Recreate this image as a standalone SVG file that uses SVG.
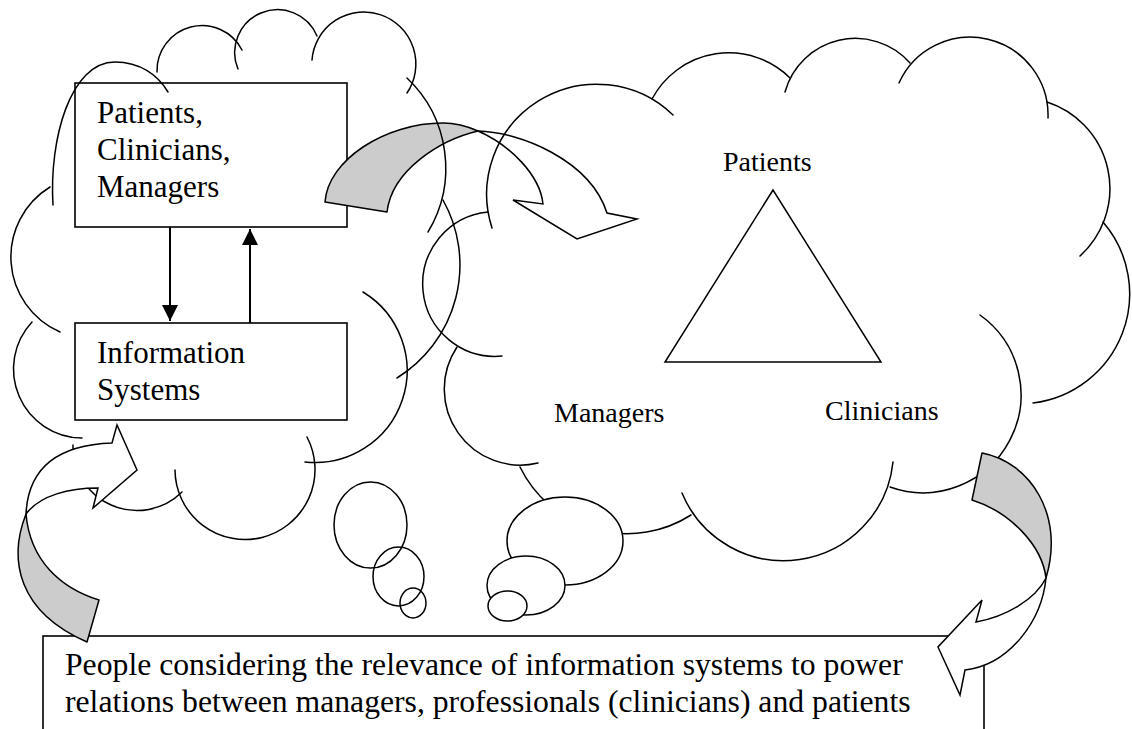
<svg xmlns="http://www.w3.org/2000/svg" width="1132" height="729" viewBox="0 0 1132 729">
<style>
.ln{fill:none;stroke:#000;stroke-width:1.5;stroke-linecap:round}
.bx{fill:none;stroke:#000;stroke-width:1.6}
.gray{fill:#cccccc;stroke:#000;stroke-width:1.5;stroke-linejoin:round}
.wht{fill:#fff;stroke:#000;stroke-width:1.5;stroke-linejoin:miter}
.wfill{fill:#fff;stroke:#000;stroke-width:1.5}
.t{font-family:"Liberation Serif","Times New Roman",serif;fill:#000}
.conn{stroke:#000;stroke-width:2;fill:none}
</style>
<defs>
<marker id="ah" viewBox="0 0 10 10" refX="10" refY="5" markerWidth="16" markerHeight="16" markerUnits="userSpaceOnUse" orient="auto">
<path d="M0,0 L10,5 L0,10 Z" fill="#000"/>
</marker>
</defs>
<rect width="1132" height="729" fill="#fff"/>

<g id="box-people">
<rect class="bx" x="75" y="83" width="272" height="144"/>
<text class="t" font-size="31" x="97" y="123">Patients,</text>
<text class="t" font-size="31" x="97" y="160">Clinicians,</text>
<text class="t" font-size="31" x="97" y="197">Managers</text>
</g>
<g id="box-is">
<rect class="bx" x="75" y="323" width="272" height="97"/>
<text class="t" font-size="31" x="97" y="363">Information</text>
<text class="t" font-size="31" x="97" y="400">Systems</text>
</g>

<g id="arrow-top">
<path class="gray" d="M325,202 C328,160 385,123 443,123 Q460,123 478,131 C440,140 392,170 387,212 Z"/>
<path class="wht" d="M478,131 C520,132 590,160 607,213 L637,219 L577,239 L513,200 L543,204 C540,175 510,145 478,131 Z"/>
</g>

<g id="cloud-left">
<path class="ln" d="M60,332 A82,82 0 0 1 50,187"/>
<path class="ln" d="M53,205 C49,140 70,62 115,62 C140,62 158,75 168,92"/>
<path class="ln" d="M157,72 A45,45 0 0 1 242,50"/>
<path class="ln" d="M238,69 A42,42 0 0 1 317,36"/>
<path class="ln" d="M312,60 A52,52 0 1 1 407,93"/>
<path class="ln" d="M407,78 A124,124 0 0 1 428,232"/>
<path class="ln" d="M443,200 A133,133 0 0 1 397,378"/>
<path class="ln" d="M363,292 A92,92 0 0 1 305,462"/>
<path class="ln" d="M307,437 A70,70 0 1 1 175,470"/>
<path class="ln" d="M182,492 A64,64 0 0 1 73,445"/>
<path class="ln" d="M82,438 A69,69 0 0 1 32,322"/>
<ellipse class="ln" cx="370.5" cy="525" rx="36.5" ry="43"/>
<ellipse class="ln" cx="398.5" cy="576.5" rx="25.5" ry="29.5"/>
<ellipse class="ln" cx="413" cy="603" rx="13" ry="15"/>
</g>

<g id="cloud-right">
<path class="ln" d="M502,356 A72,72 0 0 1 488,212"/>
<path class="ln" d="M492,228 A110,110 0 0 1 673,115"/>
<path class="ln" d="M652,99 A87,87 0 0 1 790,78"/>
<path class="ln" d="M785,92 A73,73 0 0 1 910,63"/>
<path class="ln" d="M899,83 A78,78 0 0 1 1048,118"/>
<path class="ln" d="M1047,102 A91,91 0 0 1 1080,256"/>
<path class="ln" d="M1103,222 A110,110 0 0 1 1033,403"/>
<path class="ln" d="M980,315 A98,98 0 0 1 890,487"/>
<path class="ln" d="M893,462 A110,110 0 0 1 682,493"/>
<path class="ln" d="M691,515 A119,119 0 0 1 520,467"/>
<path class="ln" d="M538,463 A76,76 0 0 1 457,347"/>
<ellipse class="wfill" cx="565" cy="541" rx="58" ry="44"/>
<ellipse class="wfill" cx="526" cy="585.5" rx="39" ry="29.5"/>
<ellipse class="wfill" cx="507.5" cy="606" rx="19.5" ry="15"/>
<polygon class="ln" points="773,190 665,362 881,362"/>
<text class="t" font-size="28" x="723" y="171">Patients</text>
<text class="t" font-size="28" x="554" y="422">Managers</text>
<text class="t" font-size="28" x="825" y="420">Clinicians</text>
</g>

<g id="box-bottom">
<rect x="43" y="636" width="941" height="130" fill="#fff" stroke="#000" stroke-width="1.6"/>
<text class="t" font-size="31.7" x="65" y="675">People considering the relevance of information systems to power</text>
<text class="t" font-size="31.7" x="65" y="712">relations between managers, professionals (clinicians) and patients</text>
</g>

<g id="arrow-bottom-left">
<path class="gray" d="M26,514 C8,560 18,612 87,642 L99,600 C60,588 30,560 26,514 Z"/>
<path class="wht" d="M26,514 C28,470 55,445 112,443 L117,425 L137,470 L93,508 L98,488 C70,488 40,495 26,514 Z"/>
</g>

<g id="arrow-bottom-right">
<path class="gray" d="M982,453 C1030,462 1065,515 1046,578 C1042,545 1010,512 972,500 Z"/>
<path class="wht" d="M1046,578 C1042,620 1010,665 965,670 L960,695 L938,647 L982,600 L976,622 C1005,617 1035,600 1046,578 Z"/>
</g>

<g id="connectors">
<line class="conn" x1="170" y1="227" x2="170" y2="321" marker-end="url(#ah)"/>
<line class="conn" x1="250" y1="323" x2="250" y2="229" marker-end="url(#ah)"/>
</g>
</svg>
